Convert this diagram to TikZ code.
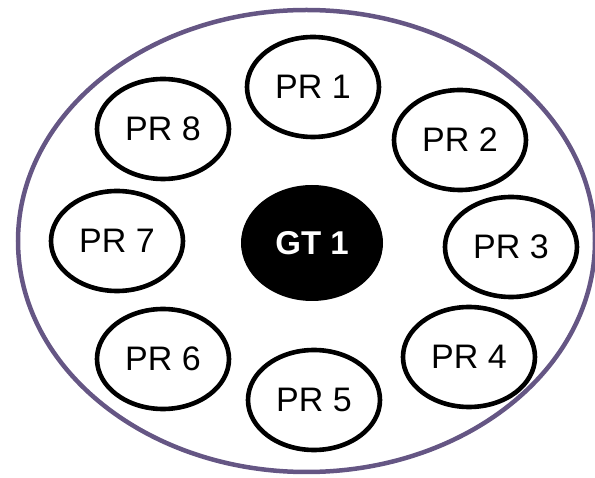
\documentclass[tikz,border=0pt]{standalone}
\usepackage{fontspec}
\setmainfont{Liberation Sans}
\usetikzlibrary{shapes.geometric}
\definecolor{outerpurple}{RGB}{101,86,132}
\begin{document}
\begin{tikzpicture}[x=1pt,y=-1pt,
  outerring/.style={draw=outerpurple, line width=4.5pt},
  pr/.style={ellipse, draw=black, line width=4.6pt, minimum width=132pt, minimum height=100pt, inner sep=0pt, font=\fontsize{34}{34}\selectfont},
  gt/.style={ellipse, fill=black, minimum width=142pt, minimum height=116pt, inner sep=0pt, text=white, font=\fontsize{33}{33}\selectfont\bfseries}]
\useasboundingbox (0,0) rectangle (595,478);
\draw[outerring] (306.5,241) ellipse [x radius=288.5, y radius=231];
\node[gt] (gt1) at (312,243) {GT 1};
\node[pr] (pr1) at (313,87) {PR 1};
\node[pr] (pr2) at (460,140) {PR 2};
\node[pr] (pr3) at (511,247) {PR 3};
\node[pr] (pr4) at (469,357) {PR 4};
\node[pr] (pr5) at (314,400) {PR 5};
\node[pr] (pr6) at (163,359) {PR 6};
\node[pr] (pr7) at (117,241) {PR 7};
\node[pr] (pr8) at (163,129) {PR 8};
\end{tikzpicture}
\end{document}
